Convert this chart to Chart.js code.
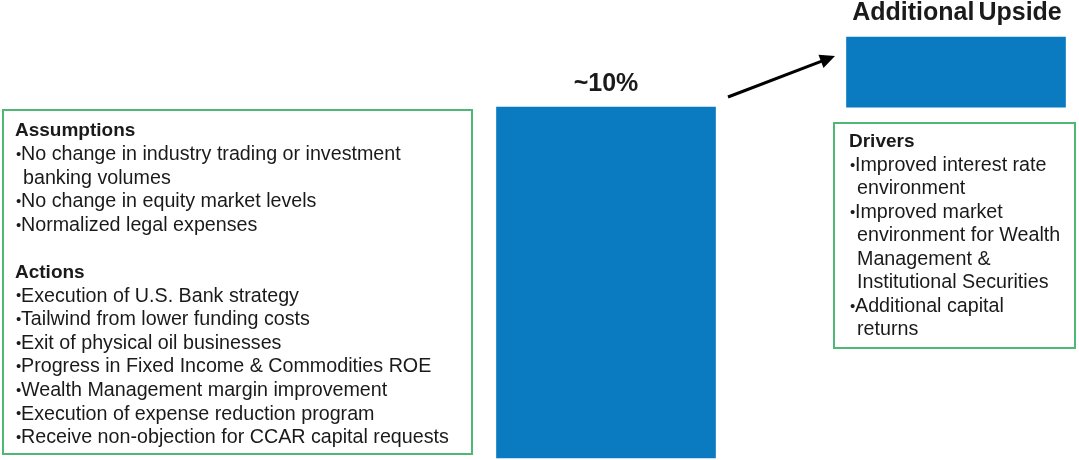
<!DOCTYPE html>
<html>
<head>
<meta charset="utf-8">
<script src="https://cdn.jsdelivr.net/npm/chart.js@4"></script>
<style>
  body { margin: 0; background: #fff; }
  #wrap { width: 1079px; height: 460px; }
</style>
</head>
<body>
<div id="wrap"><canvas id="chart"></canvas></div>
<script>
/* data */
const categories = ['~10%', 'Additional Upside']
const barRanges = [[0, 10], [10, 12]] // floating bars: base, upside on top

const assumptions = [
  ['No change in industry trading or investment', 'banking volumes'],
  ['No change in equity market levels'],
  ['Normalized legal expenses'],
]
const actions = [
  ['Execution of U.S. Bank strategy'],
  ['Tailwind from lower funding costs'],
  ['Exit of physical oil businesses'],
  ['Progress in Fixed Income & Commodities ROE'],
  ['Wealth Management margin improvement'],
  ['Execution of expense reduction program'],
  ['Receive non-objection for CCAR capital requests'],
]
const drivers = [
  ['Improved interest rate', 'environment'],
  ['Improved market', 'environment for Wealth', 'Management &', 'Institutional Securities'],
  ['Additional capital', 'returns'],
]

const BLUE = '#0a7bc1'
const GREEN = '#4fb877'
const FONT = '"Liberation Sans", Arial, sans-serif'

// draws a heading + bullet list, returns next y
function drawList(ctx, x, y, title, items, lh) {
  ctx.fillStyle = '#1a1a1a'
  ctx.textBaseline = 'middle'
  ctx.textAlign = 'left'
  ctx.font = 'bold 19px ' + FONT
  ctx.fillText(title, x, y)
  y += lh
  items.forEach(lines => {
    lines.forEach((t, i) => {
      if (i === 0) {
        ctx.font = '15px ' + FONT
        ctx.fillText('\u2022', x + 1, y)
        ctx.font = '19.7px ' + FONT
        ctx.fillText(t, x + 6, y)
      } else {
        ctx.font = '19.7px ' + FONT
        ctx.fillText(t, x + 8, y)
      }
      y += lh
    })
  })
  return y
}

const annotations = {
  id: 'annotations',
  afterDraw(chart) {
    const ctx = chart.ctx
    const xs = chart.scales.x
    const ys = chart.scales.y
    ctx.save()

    // bar titles
    ctx.fillStyle = '#1a1a1a'
    ctx.textAlign = 'center'
    ctx.textBaseline = 'middle'
    ctx.font = 'bold 25px ' + FONT
    ctx.fillText(categories[0], xs.getPixelForValue(0), ys.getPixelForValue(barRanges[0][1]) - 23)
    ctx.wordSpacing = '-3px'
    ctx.fillText(categories[1], xs.getPixelForValue(1) + 1, 13)
    ctx.wordSpacing = '0px'

    // green boxes
    ctx.strokeStyle = GREEN
    ctx.lineWidth = 2
    ctx.strokeRect(3, 110, 469, 344)
    ctx.strokeRect(834, 123, 241, 225)

    // box texts
    let y = drawList(ctx, 15, 131, 'Assumptions', assumptions, 23.6)
    drawList(ctx, 15, y + 23.6, 'Actions', actions, 23.6)
    drawList(ctx, 849, 142, 'Drivers', drivers, 23.5)

    // arrow
    const x0 = 728, y0 = 97, x1 = 835, y1 = 56
    const ang = Math.atan2(y1 - y0, x1 - x0)
    ctx.strokeStyle = '#000'
    ctx.fillStyle = '#000'
    ctx.lineWidth = 3
    ctx.beginPath()
    ctx.moveTo(x0, y0)
    ctx.lineTo(x1 - 10 * Math.cos(ang), y1 - 10 * Math.sin(ang))
    ctx.stroke()
    ctx.beginPath()
    ctx.moveTo(x1, y1)
    ctx.lineTo(x1 - 15 * Math.cos(ang) + 7 * Math.sin(ang), y1 - 15 * Math.sin(ang) - 7 * Math.cos(ang))
    ctx.lineTo(x1 - 15 * Math.cos(ang) - 7 * Math.sin(ang), y1 - 15 * Math.sin(ang) + 7 * Math.cos(ang))
    ctx.closePath()
    ctx.fill()

    ctx.restore()
  },
}

new Chart(document.getElementById('chart'), {
  type: 'bar',
  data: {
    labels: categories,
    datasets: [
      {
        data: barRanges,
        backgroundColor: BLUE,
        borderWidth: 0,
        barThickness: 219,
        clip: false,
      },
    ],
  },
  options: {
    responsive: true,
    maintainAspectRatio: false,
    animation: false,
    layout: { padding: { left: 606, right: 123, top: 37, bottom: 2 } },
    scales: {
      x: { display: false, offset: false },
      y: { display: false, min: 0, max: 12 },
    },
    plugins: {
      legend: { display: false },
      tooltip: { enabled: false },
    },
  },
  plugins: [annotations],
})
</script>
</body>
</html>
